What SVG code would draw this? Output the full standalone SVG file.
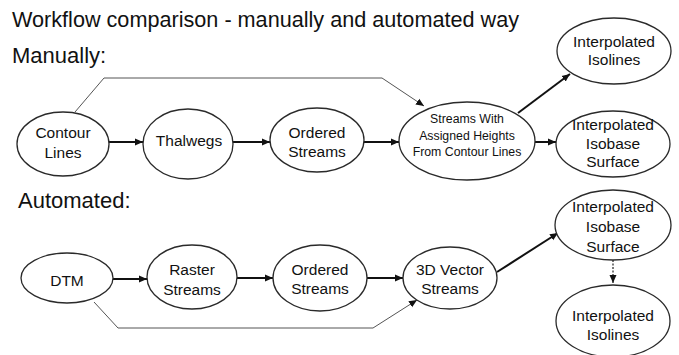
<svg xmlns="http://www.w3.org/2000/svg" width="679" height="355" viewBox="0 0 679 355">
<style>
  .bg{fill:#fff}
  .n ellipse{fill:#fff;stroke:#2a2a2a;stroke-width:1.3}
  .t{font-family:"Liberation Sans",Arial,sans-serif;fill:#111;text-anchor:middle;font-size:15.5px}
  .ts{font-size:12.3px}
  .h{font-family:"Liberation Sans",Arial,sans-serif;fill:#111;font-size:22px}
  .main{stroke:#111;stroke-width:2;fill:none;marker-end:url(#ah)}
  .thin{stroke:#555;stroke-width:1;fill:none;marker-end:url(#ah)}
  .dot{stroke:#333;stroke-width:1.3;fill:none;stroke-dasharray:2 1.5;marker-end:url(#ah)}
</style>
<defs>
  <marker id="ah" markerUnits="userSpaceOnUse" markerWidth="9" markerHeight="8" refX="8" refY="4" orient="auto">
    <path d="M0,0.5 L8,4 L0,7.5 Z" fill="#111"/>
  </marker>
</defs>
<rect class="bg" x="0" y="0" width="679" height="355"/>
<text class="h" x="12" y="27" textLength="507" lengthAdjust="spacingAndGlyphs">Workflow comparison - manually and automated way</text>
<text class="h" x="12" y="63">Manually:</text>
<text class="h" x="18" y="208">Automated:</text>

<g id="connectors">
  <path class="main" d="M109,142 L143,142"/>
  <path class="main" d="M233,142 L270,142"/>
  <path class="main" d="M364,142 L399,142"/>
  <path class="main" d="M535,142 L556,142"/>
  <path class="main" d="M518,113 L570,74"/>
  <path class="thin" d="M75,112 L104,78 L382,78 L424,106"/>
  <path class="main" d="M113,279 L147,279"/>
  <path class="main" d="M237,278 L273,278"/>
  <path class="main" d="M367,278 L403,278"/>
  <path class="main" d="M497,272 L558,233"/>
  <path class="thin" d="M94,302 L118,328 L373,328 L417,300"/>
  <path class="dot" d="M613,260 L613,283"/>
</g>

<g id="contour-lines" class="n">
  <ellipse cx="63" cy="144" rx="46" ry="32"/>
  <text class="t" x="63" y="137.5">Contour</text>
  <text class="t" x="63" y="157.5">Lines</text>
</g>
<g id="thalwegs" class="n">
  <ellipse cx="188" cy="144" rx="45" ry="35"/>
  <text class="t" x="189" y="146">Thalwegs</text>
</g>
<g id="ordered-streams-1" class="n">
  <ellipse cx="317" cy="140" rx="47" ry="32"/>
  <text class="t" x="317" y="138">Ordered</text>
  <text class="t" x="317" y="157">Streams</text>
</g>
<g id="streams-with-heights" class="n">
  <ellipse cx="467" cy="141" rx="68" ry="39"/>
  <text class="t ts" x="467" y="123">Streams With</text>
  <text class="t ts" x="467" y="139.5">Assigned Heights</text>
  <text class="t ts" x="467" y="156">From Contour Lines</text>
</g>
<g id="isolines-1" class="n">
  <ellipse cx="614" cy="51" rx="57" ry="33"/>
  <text class="t" x="614" y="47">Interpolated</text>
  <text class="t" x="614" y="65">Isolines</text>
</g>
<g id="isobase-1" class="n">
  <ellipse cx="613" cy="144" rx="57" ry="33"/>
  <text class="t" x="613" y="130">Interpolated</text>
  <text class="t" x="613" y="148.5">Isobase</text>
  <text class="t" x="613" y="167">Surface</text>
</g>

<g id="dtm" class="n">
  <ellipse cx="67" cy="278" rx="46" ry="25"/>
  <text class="t" x="67" y="286">DTM</text>
</g>
<g id="raster-streams" class="n">
  <ellipse cx="192" cy="277" rx="45" ry="32"/>
  <text class="t" x="192" y="275">Raster</text>
  <text class="t" x="192" y="295">Streams</text>
</g>
<g id="ordered-streams-2" class="n">
  <ellipse cx="320" cy="278" rx="47" ry="33"/>
  <text class="t" x="320" y="275">Ordered</text>
  <text class="t" x="320" y="294">Streams</text>
</g>
<g id="vector-streams" class="n">
  <ellipse cx="450" cy="278" rx="47" ry="31"/>
  <text class="t" x="450" y="275">3D Vector</text>
  <text class="t" x="450" y="294">Streams</text>
</g>
<g id="isobase-2" class="n">
  <ellipse cx="613" cy="225" rx="58" ry="35"/>
  <text class="t" x="613" y="212">Interpolated</text>
  <text class="t" x="613" y="232">Isobase</text>
  <text class="t" x="613" y="252">Surface</text>
</g>
<g id="isolines-2" class="n">
  <ellipse cx="613" cy="321" rx="57" ry="36"/>
  <text class="t" x="613" y="321">Interpolated</text>
  <text class="t" x="613" y="340">Isolines</text>
</g>
</svg>
